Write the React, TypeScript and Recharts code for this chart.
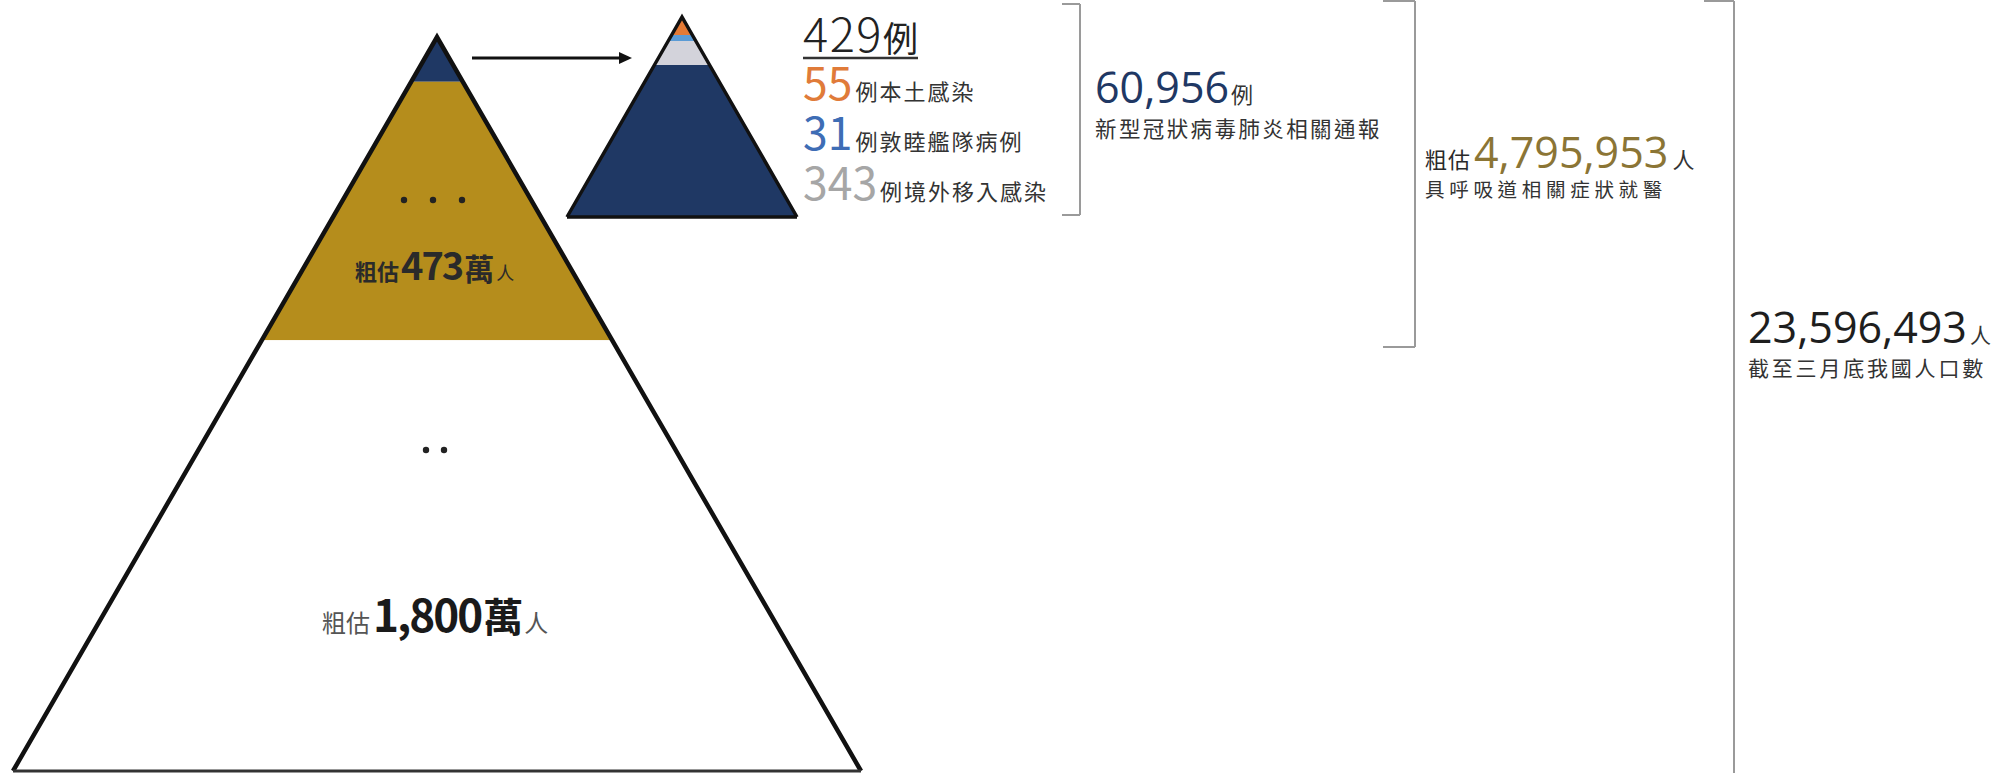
import React from 'react';
import { ComposedChart, XAxis, YAxis, Area, Line, Scatter, ReferenceLine, ReferenceDot } from 'recharts';

// ================= DATA =================
const confirmedTotal = 429;
const caseCategories = ['本土感染', '敦睦艦隊病例', '境外移入感染'];
const caseCounts = [55, 31, 343];
const reportedCount = 60956;
const reportedLabel = '新型冠狀病毒肺炎相關通報';
const medicalVisitCount = 4795953;
const medicalVisitLabel = '具呼吸道相關症狀就醫';
const populationCount = 23596493;
const populationLabel = '截至三月底我國人口數';
const tierEstimates = [473, 1800]; // 萬人
const estimatePrefix = '粗估';
// depth (fraction of pyramid height from apex) at the bottom of each band
const bigBandDepths = [0.061, 0.413, 1];
const smallBandDepths = [0.09, 0.12, 0.24, 1];

// ================= STYLE / LAYOUT =================
const W = 1995;
const H = 773;
const CJK = "'Noto Sans CJK TC', 'Noto Sans CJK SC', sans-serif";
const LATIN = "'Open Sans', 'Noto Sans CJK TC', sans-serif";
const bigBandColors = ['#1F3864', '#B58D1C', '#FFFFFF'];
const smallBandColors = ['#E47A35', '#5B9BD5', '#D3D3DB', '#1F3864'];
const caseColors = ['#E07B39', '#3E6DB5', '#A6A6A6'];

type Pyramid = { apexX: number; apexY: number; baseY: number; halfBase: number };
const BIG: Pyramid = { apexX: 437, apexY: 37, baseY: 771, halfBase: 424 };
const SMALL: Pyramid = { apexX: 682, apexY: 17, baseY: 217, halfBase: 115 };

const depthY = (p: Pyramid, d: number) => p.apexY + d * (p.baseY - p.apexY);
const inside = (p: Pyramid, x: number) =>
  x >= p.apexX - p.halfBase - 1e-6 && x <= p.apexX + p.halfBase + 1e-6;
const edgeY = (p: Pyramid, x: number) =>
  p.apexY + (Math.abs(x - p.apexX) / p.halfBase) * (p.baseY - p.apexY);

function bandRange(p: Pyramid, d0: number, d1: number, x: number): [number, number] {
  const top = depthY(p, d0);
  const bot = depthY(p, d1);
  if (!inside(p, x)) return [bot, bot];
  const t = Math.max(edgeY(p, x), top);
  return t >= bot ? [bot, bot] : [t, bot];
}

const breakpoints = (p: Pyramid, depths: number[]) => {
  const xs = [p.apexX];
  depths.forEach((d) => xs.push(p.apexX - d * p.halfBase, p.apexX + d * p.halfBase));
  return xs;
};

const xs = Array.from(
  new Set(
    [...breakpoints(BIG, bigBandDepths), ...breakpoints(SMALL, smallBandDepths)].map((v) =>
      Number(v.toFixed(4))
    )
  )
).sort((a, b) => a - b);

const chartData = xs.map((x) => {
  const row: Record<string, any> = { x };
  bigBandDepths.forEach((d, i) => {
    row['big' + i] = bandRange(BIG, i === 0 ? 0 : bigBandDepths[i - 1], d, x);
  });
  smallBandDepths.forEach((d, i) => {
    row['small' + i] = bandRange(SMALL, i === 0 ? 0 : smallBandDepths[i - 1], d, x);
  });
  row.bigEdge = inside(BIG, x) ? edgeY(BIG, x) : null;
  row.smallEdge = inside(SMALL, x) ? edgeY(SMALL, x) : null;
  return row;
});

const fmt = (n: number) => n.toLocaleString('en-US');

const labelLayout = [
  { id: 'total', x: 803, y: 52 },
  { id: 'case0', x: 803, y: 100 },
  { id: 'case1', x: 803, y: 150 },
  { id: 'case2', x: 803, y: 200 },
  { id: 'reported', x: 1095, y: 103 },
  { id: 'medical', x: 1425, y: 168 },
  { id: 'population', x: 1748, y: 343 },
  { id: 'tier1', x: 355, y: 280 },
  { id: 'tier2', x: 322, y: 632 },
];

const dotLayout = [
  { x: 404, y: 200 },
  { x: 433, y: 200 },
  { x: 462, y: 200 },
  { x: 426, y: 450 },
  { x: 444, y: 450 },
];

const brackets = [
  { x: 1080, top: 4, bottom: 215, tick: 18, bottomTick: true },
  { x: 1415, top: 1, bottom: 347, tick: 32, bottomTick: true },
  { x: 1734, top: 1, bottom: 773, tick: 30, bottomTick: false },
];

const arrow = { x1: 472, x2: 632, y: 58 };

function LabelShape(props: any) {
  const { cx, cy, payload } = props;
  if (cx == null || cy == null || !payload) return null;
  const id: string = payload.id;
  if (id === 'total') {
    return (
      <g>
        <text x={cx} y={cy} fontFamily={CJK} fill="#222">
          <tspan fontSize={47} letterSpacing={1.5} fontWeight={300}>{confirmedTotal}</tspan>
          <tspan fontSize={35}>例</tspan>
        </text>
        <line x1={cx} x2={cx + 115} y1={cy + 6} y2={cy + 6} stroke="#333" strokeWidth={2.5} />
      </g>
    );
  }
  if (id.startsWith('case')) {
    const i = Number(id.slice(4));
    return (
      <text x={cx} y={cy} fontFamily={CJK}>
        <tspan fontSize={44.5} fill={caseColors[i]}>{caseCounts[i]}</tspan>
        <tspan fontSize={22} fill="#333" letterSpacing={2} dx={3}>
          {'例' + caseCategories[i]}
        </tspan>
      </text>
    );
  }
  if (id === 'reported') {
    return (
      <g>
        <text x={cx} y={cy}>
          <tspan fontFamily={LATIN} fontSize={43} fill="#1F3864">{fmt(reportedCount)}</tspan>
          <tspan fontFamily={CJK} fontSize={22} fill="#333" dx={2}>例</tspan>
        </text>
        <text x={cx} y={cy + 33.5} fontFamily={CJK} fontSize={21.5} letterSpacing={2.4} fill="#333">
          {reportedLabel}
        </text>
      </g>
    );
  }
  if (id === 'medical') {
    return (
      <g>
        <text x={cx} y={cy}>
          <tspan fontFamily={CJK} fontSize={22} fill="#2A2A2A" letterSpacing={1}>{estimatePrefix}</tspan>
          <tspan fontFamily={LATIN} fontSize={43} fill="#8B7535" dx={3}>{fmt(medicalVisitCount)}</tspan>
          <tspan fontFamily={CJK} fontSize={22} fill="#333" dx={4}>人</tspan>
        </text>
        <text x={cx} y={cy + 28.5} fontFamily={CJK} fontSize={19.5} letterSpacing={4.7} fill="#333">
          {medicalVisitLabel}
        </text>
      </g>
    );
  }
  if (id === 'population') {
    return (
      <g>
        <text x={cx} y={cy}>
          <tspan fontFamily={LATIN} fontSize={43} fill="#1E1E1E">{fmt(populationCount)}</tspan>
          <tspan fontFamily={CJK} fontSize={21} fill="#333" dx={3}>人</tspan>
        </text>
        <text x={cx} y={cy + 32.5} fontFamily={CJK} fontSize={21} letterSpacing={2.8} fill="#333">
          {populationLabel}
        </text>
      </g>
    );
  }
  if (id === 'tier1') {
    return (
      <text x={cx} y={cy} fontFamily={CJK} fill="#2A2A2A" fontWeight="bold">
        <tspan fontSize={22}>{estimatePrefix}</tspan>
        <tspan fontSize={38} letterSpacing={-2} dx={2}>{tierEstimates[0]}</tspan>
        <tspan fontSize={30} dx={2}>萬</tspan>
        <tspan fontSize={18} fontWeight="normal" dx={2}>人</tspan>
      </text>
    );
  }
  if (id === 'tier2') {
    return (
      <text x={cx} y={cy} fontFamily={CJK}>
        <tspan fontSize={24} fill="#555">{estimatePrefix}</tspan>
        <tspan fontSize={44} fontWeight="bold" fill="#1A1A1A" letterSpacing={-2} dx={3}>
          {fmt(tierEstimates[1])}
        </tspan>
        <tspan fontSize={40} fontWeight="bold" fill="#1A1A1A" dx={2}>萬</tspan>
        <tspan fontSize={24} fill="#555" dx={1}>人</tspan>
      </text>
    );
  }
  return null;
}

const DotShape = (props: any) => {
  const { cx, cy } = props;
  if (cx == null || cy == null) return null;
  return <circle cx={cx} cy={cy} r={3.2} fill="#222" />;
};

const ArrowHead = (props: any) => {
  const { cx, cy } = props;
  if (cx == null || cy == null) return null;
  return <polygon points={`${cx},${cy} ${cx - 13},${cy - 6} ${cx - 13},${cy + 6}`} fill="#111" />;
};

export default function App() {
  return (
    <div style={{ position: 'absolute', left: 0, top: 0, width: W, height: H, background: '#fff' }}>
      <ComposedChart
        width={W}
        height={H}
        data={chartData}
        margin={{ top: 0, right: 0, bottom: 0, left: 0 }}
      >
        <XAxis type="number" dataKey="x" domain={[0, W]} allowDataOverflow hide />
        <YAxis type="number" dataKey="y" domain={[0, H]} allowDataOverflow reversed hide />

        {bigBandDepths.map((_, i) => (
          <Area
            key={'big' + i}
            type="linear"
            dataKey={'big' + i}
            stroke="none"
            fill={bigBandColors[i]}
            fillOpacity={1}
            dot={false}
            activeDot={false}
            isAnimationActive={false}
          />
        ))}
        {smallBandDepths.map((_, i) => (
          <Area
            key={'small' + i}
            type="linear"
            dataKey={'small' + i}
            stroke="none"
            fill={smallBandColors[i]}
            fillOpacity={1}
            dot={false}
            activeDot={false}
            isAnimationActive={false}
          />
        ))}
        <Line
          type="linear"
          dataKey="bigEdge"
          stroke="#111"
          strokeWidth={4.5}
          dot={false}
          activeDot={false}
          isAnimationActive={false}
        />
        <Line
          type="linear"
          dataKey="smallEdge"
          stroke="#111"
          strokeWidth={3.5}
          dot={false}
          activeDot={false}
          isAnimationActive={false}
        />
        <ReferenceLine
          segment={[
            { x: BIG.apexX - BIG.halfBase, y: BIG.baseY },
            { x: BIG.apexX + BIG.halfBase, y: BIG.baseY },
          ]}
          stroke="#333"
          strokeWidth={3}
        />
        <ReferenceLine
          segment={[
            { x: SMALL.apexX - SMALL.halfBase, y: SMALL.baseY },
            { x: SMALL.apexX + SMALL.halfBase, y: SMALL.baseY },
          ]}
          stroke="#111"
          strokeWidth={3.5}
        />

        {/* arrow */}
        <ReferenceLine
          segment={[
            { x: arrow.x1, y: arrow.y },
            { x: arrow.x2 - 10, y: arrow.y },
          ]}
          stroke="#111"
          strokeWidth={3}
        />
        <ReferenceDot x={arrow.x2} y={arrow.y} r={1} shape={ArrowHead} />

        {/* brackets */}
        {brackets.map((b, i) => (
          <ReferenceLine
            key={'bv' + i}
            segment={[
              { x: b.x, y: b.top },
              { x: b.x, y: b.bottom },
            ]}
            stroke="#9A9A9A"
            strokeWidth={2}
          />
        ))}
        {brackets.map((b, i) => (
          <ReferenceLine
            key={'bt' + i}
            segment={[
              { x: b.x - b.tick, y: b.top },
              { x: b.x, y: b.top },
            ]}
            stroke="#9A9A9A"
            strokeWidth={2}
          />
        ))}
        {brackets
          .filter((b) => b.bottomTick)
          .map((b, i) => (
            <ReferenceLine
              key={'bb' + i}
              segment={[
                { x: b.x - b.tick, y: b.bottom },
                { x: b.x, y: b.bottom },
              ]}
              stroke="#9A9A9A"
              strokeWidth={2}
            />
          ))}

        <Scatter data={dotLayout} dataKey="y" shape={DotShape} isAnimationActive={false} />
        <Scatter data={labelLayout} dataKey="y" shape={LabelShape} isAnimationActive={false} />
      </ComposedChart>
    </div>
  );
}
